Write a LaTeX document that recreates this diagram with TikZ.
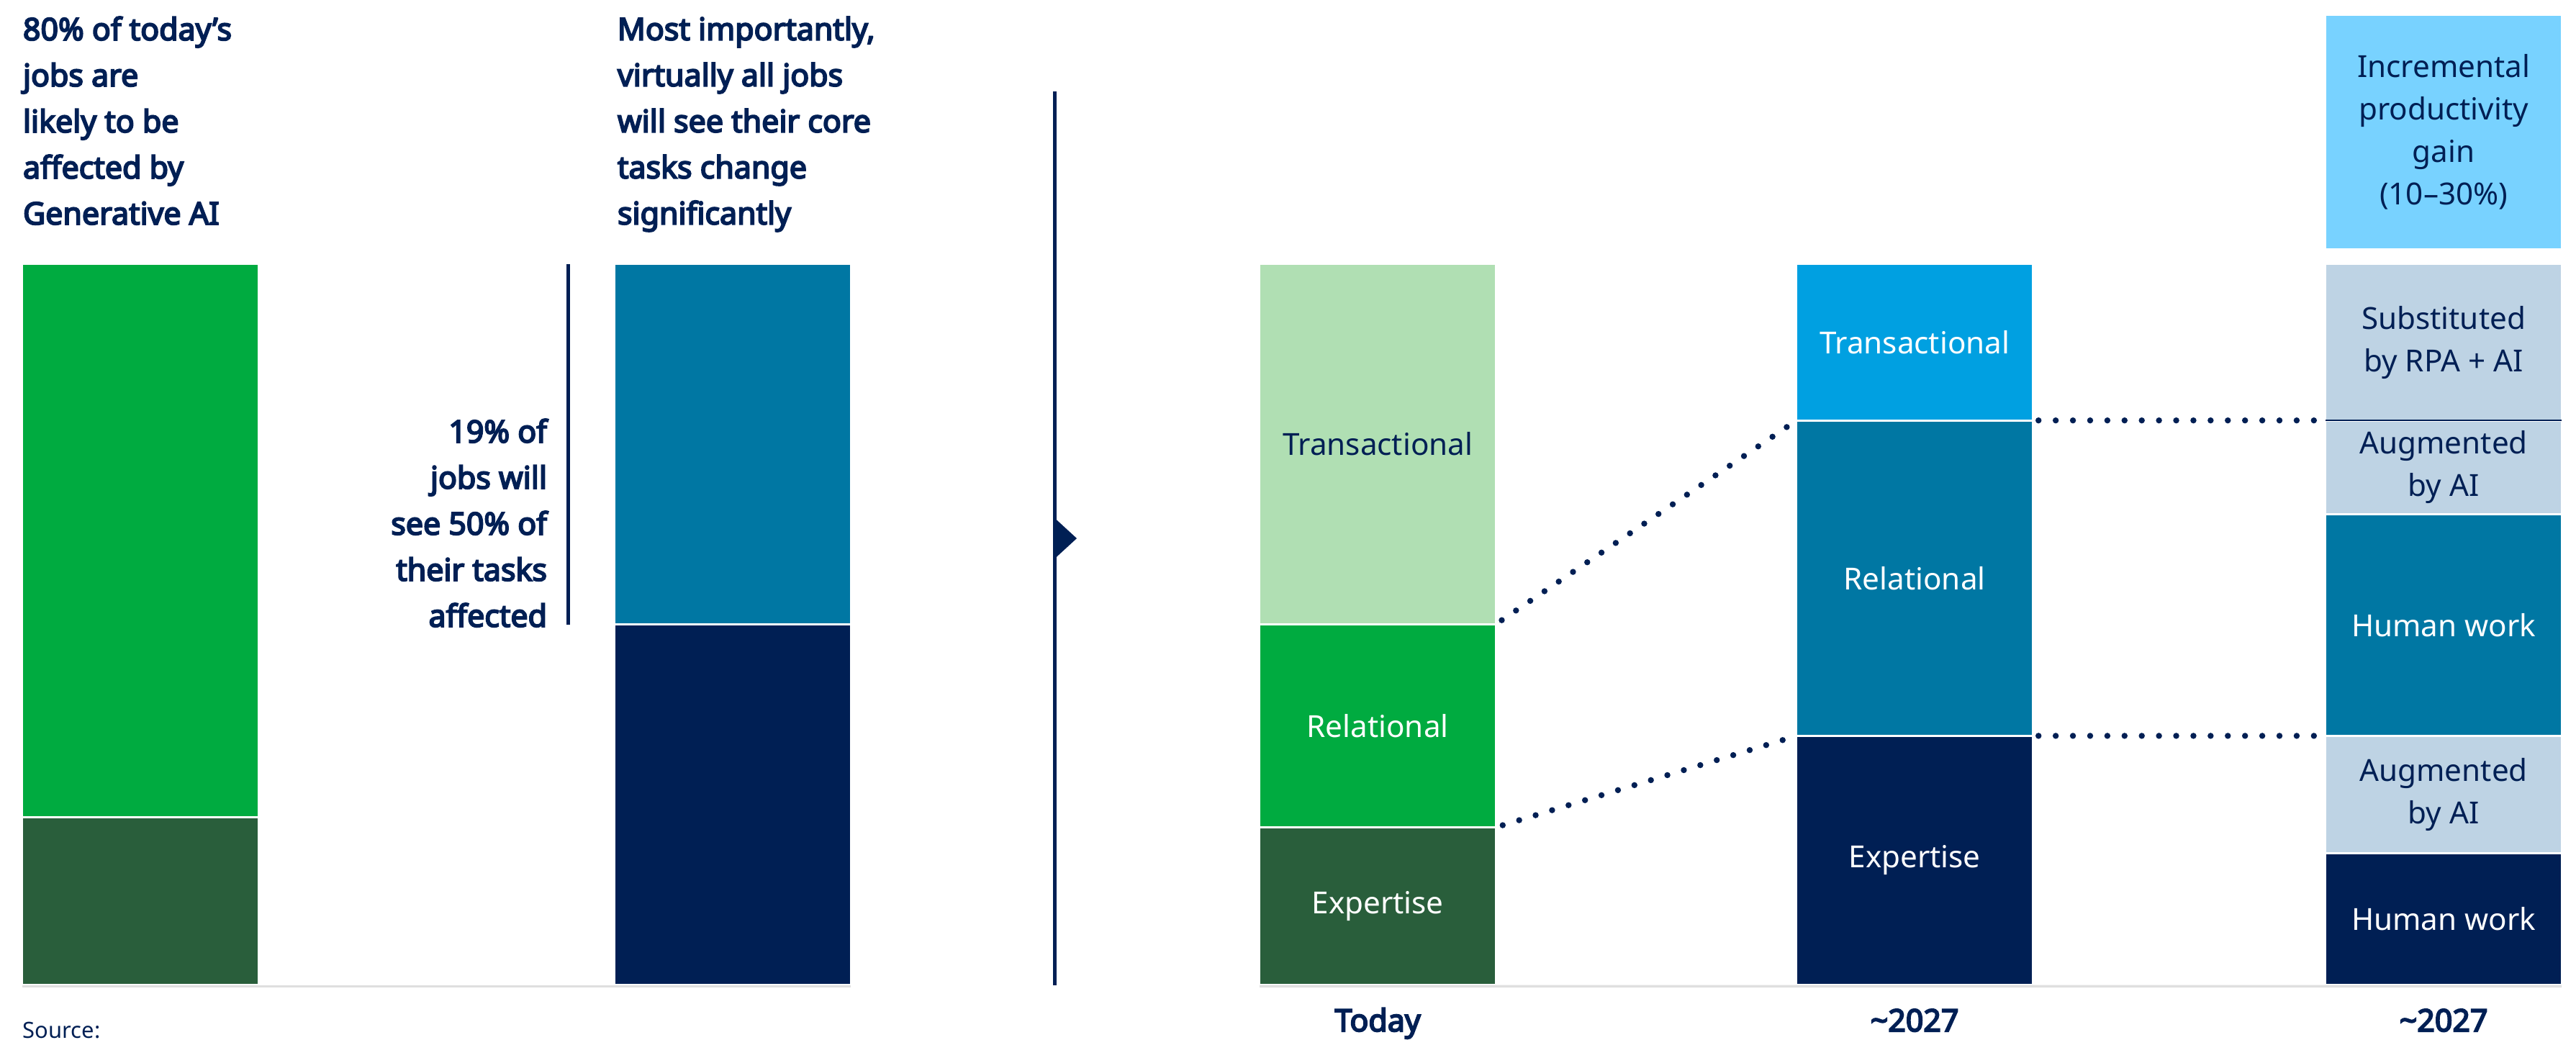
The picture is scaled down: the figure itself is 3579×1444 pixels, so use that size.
\documentclass[tikz,border=0pt]{standalone}
\usepackage{fontspec}
\setmainfont{Noto Sans}[BoldFont={Noto Sans},BoldFeatures={FakeBold=4.5}]
\usetikzlibrary{positioning}
\definecolor{navy}{HTML}{001F54}
\definecolor{teal}{HTML}{0077A3}
\definecolor{green}{HTML}{00AB40}
\definecolor{dkgreen}{HTML}{295E3B}
\definecolor{ltgreen}{HTML}{B0DFB3}
\definecolor{skyblue}{HTML}{00A0E1}
\definecolor{gainblue}{HTML}{78D2FF}
\definecolor{paleblue}{HTML}{BED3E4}
\newcommand{\lblfont}{\fontsize{12pt}{16.8pt}\selectfont}
\newcommand{\hdfont}{\bfseries\fontsize{12.2pt}{18.2pt}\selectfont}

\begin{document}
\begin{tikzpicture}[x=0.01cm,y=-0.01cm,node distance=0pt,
  seg/.style={minimum width=3.28cm,inner sep=0pt,outer sep=0pt,draw=white,line width=0.8pt,align=center,font=\lblfont,text=white},
  dark/.style={text=navy},
  head/.style={inner sep=0pt,outer sep=0pt,font=\hdfont,text=navy},
  dotline/.style={draw=navy,line width=2.4pt,line cap=round,dash pattern=on 0pt off 6.8pt},
  floor/.style={draw=gray!25,line width=1pt}]
\useasboundingbox (0,0) rectangle (3579,1444);

%% left half: jobs affected
\node[seg,fill=green,minimum height=7.68cm,anchor=north west] (jobsA) at (31,367) {};
\node[seg,fill=dkgreen,minimum height=2.33cm,below=of jobsA] (jobsB) {};
\node[seg,fill=teal,minimum height=5cm,anchor=north west] (coreA) at (854,367) {};
\node[seg,fill=navy,minimum height=5.01cm,below=of coreA] (coreB) {};
\draw[floor] ([yshift=-0.5pt]jobsB.south west) -- ([yshift=-0.5pt]coreB.south east);

\node[head,align=left,anchor=north west] (intro) at (32,23) {80\% of today’s\\jobs are\\likely to be\\affected by\\Generative AI};
\node[head,align=left,anchor=north west] (core) at (858,23) {Most importantly,\\virtually all jobs\\will see their core\\tasks change\\significantly};
\node[head,align=right,anchor=north east] (share) at (760,582) {19\% of\\jobs will\\see 50\% of\\their tasks\\affected};
\coordinate (markA) at (789.5,367);
\coordinate (markB) at (789.5,868);
\draw[navy,line width=1.15pt] (markA) -- (markB); %%marker

%% divider
\coordinate (divtop) at (1465.5,127);
\coordinate (divbot) at (1465.5,1369);
\draw[navy,line width=1.5pt] (divtop) -- (divbot);
\fill[navy] (1465.5,720) -- (1496,748) -- (1465.5,776) -- cycle;

%% right half: today
\node[seg,dark,fill=ltgreen,minimum height=5cm,anchor=north west] (todT) at (1750,367) {Transactional};
\node[seg,fill=green,minimum height=2.82cm,below=of todT] (todR) {Relational};
\node[seg,fill=dkgreen,minimum height=2.19cm,below=of todR] (todE) {Expertise};

%% ~2027
\node[seg,fill=skyblue,minimum height=2.17cm,anchor=north west] (futT) at (2496,367) {Transactional};
\node[seg,fill=teal,minimum height=4.38cm,below=of futT] (futR) {Relational};
\node[seg,fill=navy,minimum height=3.46cm,below=of futR] (futE) {Expertise};

%% ~2027 split
\node[seg,dark,fill=gainblue,minimum height=3.25cm,anchor=north west] (gain) at (3231,21) {Incremental\\productivity\\gain\\(10--30\%)};
\node[seg,dark,fill=paleblue,minimum height=2.17cm,anchor=north west] (subst) at (3231,367) {Substituted\\by RPA + AI};
\node[seg,dark,fill=paleblue,minimum height=1.30cm,below=of subst] (augA) {Augmented\\by AI};
\node[seg,fill=teal,minimum height=3.08cm,below=of augA] (humA) {Human work};
\node[seg,dark,fill=paleblue,minimum height=1.63cm,below=of humA] (augB) {Augmented\\by AI};
\node[seg,fill=navy,minimum height=1.83cm,below=of augB] (humB) {Human work};
\draw[navy,line width=0.7pt] (augA.north west) -- (augA.north east);
\draw[floor] ([yshift=-0.5pt]todE.south west) -- ([yshift=-0.5pt]humB.south east);

\draw[dotline,shorten <=0.1cm,shorten >=0.15cm] (todR.north east) -- (futR.north west);
\draw[dotline,shorten <=0.1cm,shorten >=0.15cm] (todE.north east) -- (futE.north west);
\draw[dotline,shorten <=0.08cm,shorten >=0.07cm] (futR.north east) -- (augA.north west);
\draw[dotline,shorten <=0.08cm,shorten >=0.07cm] (futE.north east) -- (augB.north west);

%% axis labels
\coordinate (lbl) at (0,1433);
\node[head,anchor=base] (today) at (todE.south |- lbl) {Today};
\node[head,anchor=base] (yearA) at (futE.south |- lbl) {\textasciitilde2027};
\node[head,anchor=base] (yearB) at (humB.south |- lbl) {\textasciitilde2027};
\node[inner sep=0pt,anchor=base west,font=\fontsize{8.8pt}{10pt}\selectfont,text=navy] (src) at (31,1442) {Source:};
\end{tikzpicture}
\end{document}
